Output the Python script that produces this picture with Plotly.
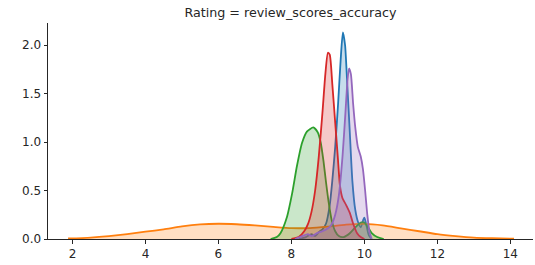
import plotly.graph_objects as go

title_text = "Rating = review_scores_accuracy"

blue_x = [8.2, 8.4, 8.55, 8.65, 8.75, 8.85, 8.95, 9.05, 9.12, 9.2, 9.28, 9.35, 9.41, 9.47, 9.53, 9.6, 9.67, 9.75, 9.83, 9.9, 9.97, 10.0, 10.05, 10.12, 10.2]
blue_y = [0.0, 0.02, 0.05, 0.03, 0.07, 0.10, 0.16, 0.35, 0.6, 0.95, 1.4, 1.85, 2.13, 2.0, 1.6, 1.1, 0.6, 0.3, 0.17, 0.12, 0.2, 0.22, 0.15, 0.04, 0.0]

orange_x = [1.88, 2.5, 3.0, 3.5, 4.0, 4.5, 5.0, 5.5, 6.0, 6.5, 7.0, 7.5, 8.0, 8.5, 9.0, 9.5, 10.0, 10.5, 11.0, 11.5, 12.0, 12.5, 13.0, 13.5, 14.1]
orange_y = [0.005, 0.015, 0.03, 0.05, 0.075, 0.10, 0.13, 0.15, 0.157, 0.152, 0.14, 0.125, 0.112, 0.113, 0.128, 0.148, 0.155, 0.14, 0.11, 0.08, 0.05, 0.03, 0.015, 0.008, 0.003]

green_x = [7.43, 7.6, 7.7, 7.88, 8.02, 8.15, 8.29, 8.43, 8.6, 8.72, 8.80, 8.88, 8.95, 9.02, 9.10, 9.2, 9.3, 9.43, 9.6, 9.75, 9.9, 10.0, 10.1, 10.2, 10.35, 10.53]
green_y = [0.0, 0.02, 0.06, 0.23, 0.47, 0.75, 0.99, 1.11, 1.15, 1.10, 1.0, 0.8, 0.58, 0.38, 0.2, 0.08, 0.03, 0.02, 0.06, 0.12, 0.17, 0.17, 0.12, 0.06, 0.02, 0.0]

red_x = [8.0, 8.2, 8.35, 8.45, 8.55, 8.65, 8.75, 8.85, 8.93, 9.0, 9.05, 9.12, 9.2, 9.27, 9.33, 9.4, 9.5, 9.6, 9.7, 9.8, 9.9, 10.0]
red_y = [0.0, 0.02, 0.08, 0.15, 0.28, 0.5, 0.85, 1.3, 1.7, 1.92, 1.9, 1.6, 1.2, 0.85, 0.55, 0.42, 0.35, 0.27, 0.15, 0.06, 0.02, 0.0]

purple_x = [8.1, 8.3, 8.45, 8.55, 8.7, 8.85, 9.0, 9.1, 9.2, 9.3, 9.4, 9.48, 9.54, 9.58, 9.63, 9.69, 9.75, 9.82, 9.9, 9.96, 10.02, 10.08, 10.14, 10.2]
purple_y = [0.0, 0.03, 0.05, 0.03, 0.06, 0.08, 0.11, 0.15, 0.25, 0.45, 0.85, 1.3, 1.65, 1.76, 1.7, 1.4, 1.15, 0.95, 0.85, 0.72, 0.5, 0.25, 0.07, 0.0]

series = [
    (blue_x, blue_y, "31,119,180"),
    (orange_x, orange_y, "255,127,14"),
    (green_x, green_y, "44,160,44"),
    (red_x, red_y, "214,39,40"),
    (purple_x, purple_y, "148,103,189"),
]

x_ticks = [2, 4, 6, 8, 10, 12, 14]
y_ticks = [0.0, 0.5, 1.0, 1.5, 2.0]

fig = go.Figure()
for xs, ys, rgb in series:
    fig.add_trace(go.Scatter(
        x=xs, y=ys, mode="lines",
        line=dict(color=f"rgb({rgb})", width=1.8, shape="spline", smoothing=0.6),
        fill="tozeroy", fillcolor=f"rgba({rgb},0.25)",
        hoverinfo="skip", showlegend=False,
    ))

font = dict(family="DejaVu Sans", size=12, color="#262626")
fig.update_layout(
    width=535, height=265,
    margin=dict(l=48, r=2, t=23, b=26),
    paper_bgcolor="white", plot_bgcolor="white",
    font=font,
    title=dict(text=title_text, x=0.5, xref="paper", xanchor="center",
               y=1 - 13.0 / 265, yref="container", yanchor="middle",
               font=dict(family="DejaVu Sans", size=12.7, color="#262626")),
    xaxis=dict(range=[1.33, 14.62], tickvals=x_ticks, ticktext=[str(v) for v in x_ticks],
               automargin=False,
               showgrid=False, zeroline=False, showline=True, linecolor="#262626", linewidth=1,
               ticks="outside", ticklen=3.5, tickcolor="#262626", tickwidth=1),
    yaxis=dict(range=[0, 2.227], tickvals=y_ticks, ticktext=[f"{v:.1f}" for v in y_ticks],
               automargin=False,
               showgrid=False, zeroline=False, showline=True, linecolor="#262626", linewidth=1,
               ticks="outside", ticklen=3.5, tickcolor="#262626", tickwidth=1),
)

fig.write_html("out.html", config={"displayModeBar": False},
               post_script="document.body.style.margin='0';")
